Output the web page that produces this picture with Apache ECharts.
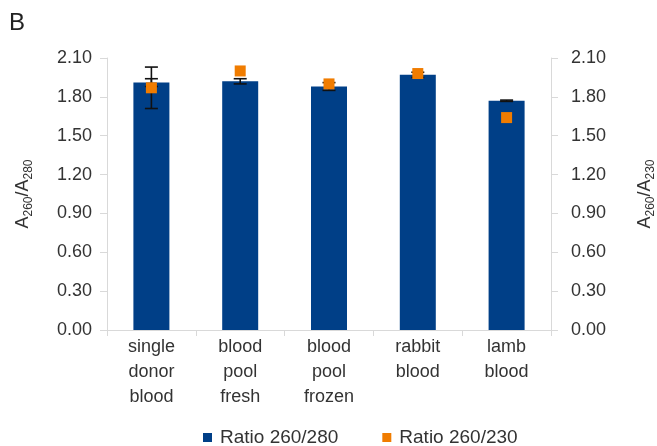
<!DOCTYPE html>
<html>
<head>
<meta charset="utf-8">
<script src="https://cdn.jsdelivr.net/npm/echarts@6/dist/echarts.min.js"></script>
<style>
  html, body { margin: 0; padding: 0; background: #fff; }
  #chart { width: 657px; height: 446px; }
</style>
</head>
<body>
<div id="chart"></div>
<script>
// Sample sources
const categories = ['single\ndonor\nblood', 'blood\npool\nfresh', 'blood\npool\nfrozen', 'rabbit\nblood', 'lamb\nblood'];

// A260/A280 means and their standard deviations
const ratio280 = [1.91, 1.92, 1.88, 1.97, 1.77];
const err280 = [0.03, 0.02, 0.03, 0.02, 0.005];

// A260/A230 means and their standard deviations (0 = no bar drawn)
const ratio230 = [1.87, 2.00, 1.90, 1.98, 1.64];
const err230 = [0.16, 0, 0, 0, 0];

// Shared axis ticks
const axisMin = 0, axisMax = 2.1, axisStep = 0.3;

const FONT = '"Liberation Sans", Arial, sans-serif';
const TEXT = '#333333';
const AXIS = '#d9d9d9';

function errorData(means, errs) {
  return means.map((m, i) => [i, m - errs[i], m + errs[i]]);
}

function renderError(params, api) {
  const x = api.value(0);
  if (api.value(2) - api.value(1) <= 0) return null;
  const lo = api.coord([x, api.value(1)]);
  const hi = api.coord([x, api.value(2)]);
  const half = 6.5;
  const style = { stroke: '#111', lineWidth: 1.6 };
  return {
    type: 'group',
    children: [
      { type: 'line', shape: { x1: hi[0], y1: hi[1], x2: lo[0], y2: lo[1] }, style },
      { type: 'line', shape: { x1: hi[0] - half, y1: hi[1], x2: hi[0] + half, y2: hi[1] }, style },
      { type: 'line', shape: { x1: lo[0] - half, y1: lo[1], x2: lo[0] + half, y2: lo[1] }, style }
    ]
  };
}

function ratioName(sub) {
  return '{a|A}{s|260}{a|/A}{s|' + sub + '}';
}
const nameRich = {
  a: { fontSize: 18, fontFamily: FONT, color: TEXT, lineHeight: 24 },
  s: { fontSize: 12, fontFamily: FONT, color: TEXT, lineHeight: 12, verticalAlign: 'bottom', padding: [7, 0, 0, 0] }
};

function valueAxis(sub, pos, gap, labelMargin) {
  return {
    type: 'value',
    position: pos,
    min: axisMin,
    max: axisMax,
    interval: axisStep,
    name: ratioName(sub),
    nameLocation: 'middle',
    nameRotate: 90,
    nameGap: gap,
    nameTextStyle: { rich: nameRich },
    axisLine: { show: true, lineStyle: { color: AXIS, width: 1 } },
    axisTick: { show: true, length: 7, lineStyle: { color: AXIS } },
    splitLine: { show: false },
    axisLabel: {
      formatter: v => v.toFixed(2),
      fontSize: 18,
      fontFamily: FONT,
      color: TEXT,
      margin: labelMargin
    }
  };
}

const chart = echarts.init(document.getElementById('chart'), null, { renderer: 'canvas' });
chart.setOption({
  animation: false,
  backgroundColor: '#ffffff',
  grid: { left: 107, right: 106, top: 58, bottom: 116, containLabel: false, outerBoundsMode: 'none' },
  graphic: [{
    type: 'text', left: 9, top: 11,
    style: { text: 'B', fontSize: 24, fontFamily: FONT, fill: '#222' }
  }],
  legend: {
    left: 198,
    bottom: -6,
    itemWidth: 9,
    itemHeight: 9,
    itemGap: 44,
    icon: 'rect',
    textStyle: { fontSize: 19, fontFamily: FONT, color: TEXT, padding: [0, 0, 0, 3] },
    data: ['Ratio 260/280', 'Ratio 260/230']
  },
  xAxis: {
    type: 'category',
    data: categories,
    axisLine: { lineStyle: { color: AXIS } },
    axisTick: { show: true, length: 6, lineStyle: { color: AXIS } },
    axisLabel: { interval: 0, fontSize: 18, fontFamily: FONT, color: TEXT, lineHeight: 25, margin: 5 }
  },
  yAxis: [
    valueAxis('280', 'left', 72, 15),
    valueAxis('230', 'right', 82, 20)
  ],
  series: [
    {
      name: 'Ratio 260/280',
      type: 'bar',
      data: ratio280,
      barWidth: 36,
      itemStyle: { color: '#003f87' },
      z: 2
    },
    {
      name: 'err280',
      type: 'custom',
      renderItem: renderError,
      data: errorData(ratio280, err280),
      encode: { x: 0, y: [1, 2] },
      z: 3,
      silent: true
    },
    {
      name: 'err230',
      type: 'custom',
      yAxisIndex: 1,
      renderItem: renderError,
      data: errorData(ratio230, err230),
      encode: { x: 0, y: [1, 2] },
      z: 3,
      silent: true
    },
    {
      name: 'Ratio 260/230',
      type: 'scatter',
      yAxisIndex: 1,
      data: ratio230,
      symbol: 'rect',
      symbolSize: 11,
      itemStyle: { color: '#f07c00', opacity: 1 },
      z: 4
    }
  ]
});
</script>
</body>
</html>
